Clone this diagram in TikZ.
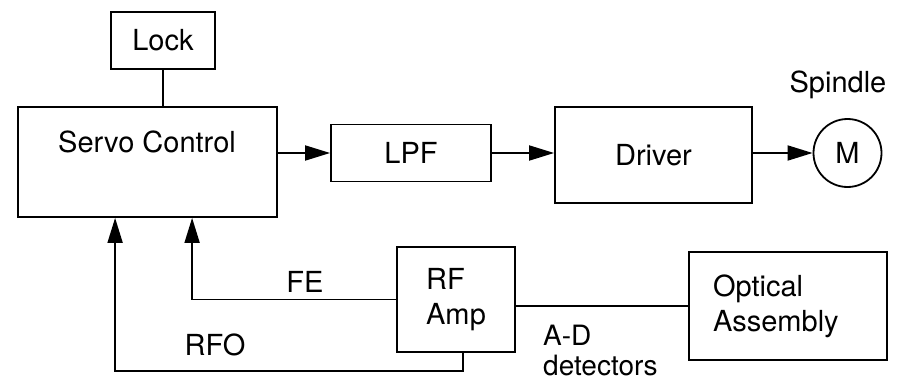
\documentclass[tikz,border=0pt]{standalone}
\usepackage{fontspec}
\setmainfont{TeX Gyre Heros}
\usetikzlibrary{arrows.meta}

\begin{document}
\begin{tikzpicture}[x=1pt, y=-1pt, every node/.style={font=\fontsize{29}{35}\selectfont}]
  \tikzstyle{edge}=[-{Triangle[length=25pt, width=15pt]}, line width=1.8pt]
  \tikzstyle{wire}=[line width=1.8pt]
  \tikzstyle{block}=[draw, line width=1.8pt, inner sep=0pt]
  \useasboundingbox (0,0) rectangle (903,380);
  % top row
  \node[block, minimum width=104pt, minimum height=57pt] (lock) at (163,40.5) {Lock};
  \node[block, minimum width=259pt, minimum height=110pt] (servo) at (147.5,162) {};
  \node (servotxt) at (147,142) {Servo Control};
  \node[block, minimum width=160pt, minimum height=57pt] (lpf) at (411,153) {LPF};
  \node[block, minimum width=197pt, minimum height=96pt] (driver) at (653.5,155) {Driver};
  \node[block, circle, minimum size=68pt] (motor) at (847.5,153) {M};
  \node (spindle) at (838,85) {Spindle};
  % bottom row
  \node[block, minimum width=118pt, minimum height=105pt, align=left] (rfamp) at (456,299.5) {RF\\Amp};
  \node[block, minimum width=198pt, minimum height=108pt, text width=150pt, align=left] (optical) at (788,306) {Optical\\Assembly};
  \node[inner sep=0pt, anchor=north west, align=left, font=\fontsize{28}{30}\selectfont] (detlabel) at (543,325) {A-D\\detectors};
  \node (felabel) at (305,282) {FE};
  \node (rfolabel) at (215,345) {RFO};
  % connectors
  \draw[wire] (lock.south) -- (lock.south |- servo.north);
  \draw[edge] (servo.east |- lpf.west) -- (lpf.west);
  \draw[edge] (lpf.east) -- (lpf.east -| driver.west);
  \draw[edge] (motor.west -| driver.east) -- (motor.west);
  \draw[wire] (optical.west -| rfamp.east) -- (optical.west);
  \draw[edge] (rfamp.west) -| ([xshift=175pt]servo.south west);
  \draw[edge] ([xshift=7pt]rfamp.south) -- ++(0,18) -| ([xshift=98pt]servo.south west);
\end{tikzpicture}
\end{document}
